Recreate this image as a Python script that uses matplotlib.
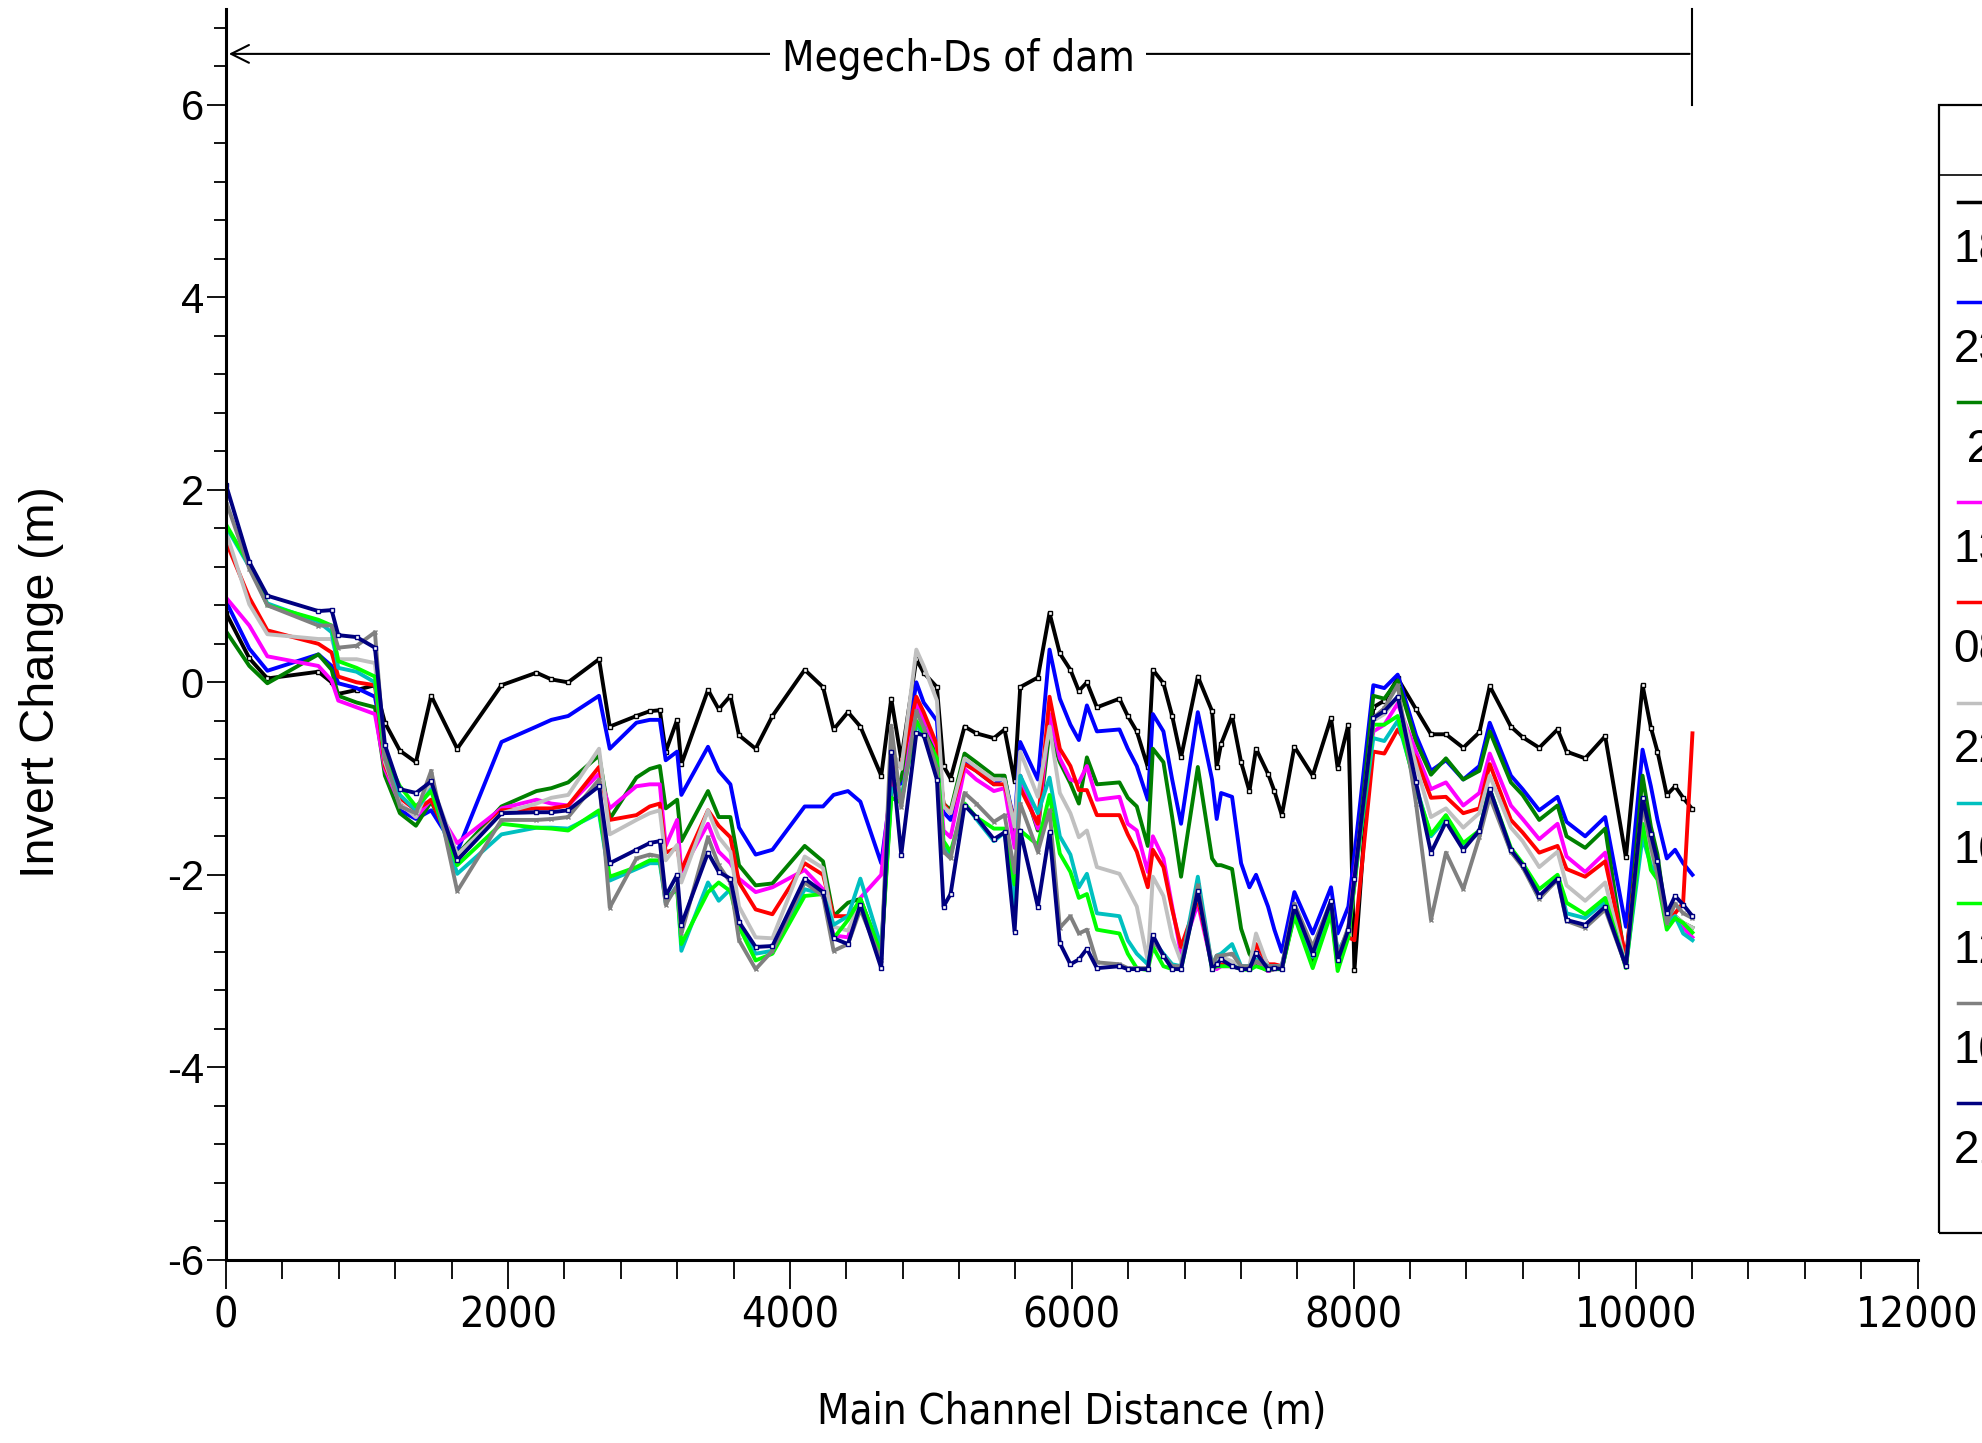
import matplotlib
matplotlib.use("Agg")
import matplotlib.pyplot as plt
from matplotlib import font_manager as fm
from matplotlib.lines import Line2D
from matplotlib.patches import Rectangle
from matplotlib.ticker import MultipleLocator

# river stations (m)
stations = [
    0, 165, 293, 655, 749, 796, 926, 1056, 1127, 1233,
    1347, 1455, 1640, 1954, 2202, 2308, 2427, 2646, 2722, 2911,
    3006, 3077, 3119, 3200, 3230, 3419, 3495, 3578, 3639, 3757,
    3876, 4105, 4235, 4310, 4412, 4500, 4648, 4719, 4790, 4897,
    4949, 5043, 5090, 5140, 5239, 5322, 5447, 5523, 5594, 5634,
    5759, 5842, 5915, 5990, 6050, 6107, 6178, 6338, 6397, 6461,
    6539, 6575, 6650, 6712, 6775, 6894, 6995, 7028, 7059, 7137,
    7201, 7260, 7307, 7392, 7437, 7490, 7579, 7709, 7839, 7886,
    7962, 8005, 8139, 8217, 8312, 8442, 8548, 8654, 8777, 8891,
    8965, 9115, 9198, 9316, 9446, 9510, 9642, 9784, 9931, 10049,
    10108, 10155, 10221, 10280, 10337, 10403,
]

s_black = [
    0.72, 0.25, 0.04, 0.11, 0.0, -0.12, -0.08, -0.03, -0.42, -0.71,
    -0.83, -0.14, -0.69, -0.03, 0.10, 0.03, 0.0, 0.24, -0.46, -0.35,
    -0.30, -0.29, -0.72, -0.39, -0.85, -0.08, -0.28, -0.14, -0.55, -0.69,
    -0.35, 0.13, -0.05, -0.49, -0.31, -0.46, -0.97, -0.17, -0.80, 0.24,
    0.10, -0.05, -0.87, -1.00, -0.46, -0.53, -0.58, -0.49, -1.03, -0.05,
    0.05, 0.72, 0.30, 0.13, -0.09, 0.0, -0.26, -0.17, -0.35, -0.51,
    -0.88, 0.13, -0.01, -0.35, -0.78, 0.06, -0.30, -0.88, -0.64, -0.35,
    -0.83, -1.13, -0.69, -0.95, -1.13, -1.38, -0.67, -0.97, -0.37, -0.89,
    -0.44, -2.99, -0.26, -0.19, 0.04, -0.28, -0.54, -0.54, -0.68, -0.52,
    -0.04, -0.46, -0.57, -0.68, -0.49, -0.72, -0.79, -0.56, -1.82, -0.03,
    -0.47, -0.72, -1.17, -1.08, -1.20, -1.32,
]
s_blue = [
    0.84, 0.35, 0.12, 0.29, 0.17, -0.01, -0.06, -0.15, -0.72, -1.33,
    -1.42, -1.33, -1.76, -0.62, -0.46, -0.39, -0.35, -0.14, -0.69, -0.42,
    -0.39, -0.39, -0.81, -0.72, -1.17, -0.67, -0.92, -1.06, -1.51, -1.79,
    -1.74, -1.29, -1.29, -1.17, -1.13, -1.24, -1.88, -1.10, -1.05, 0.0,
    -0.21, -0.40, -1.35, -1.43, -0.83, -0.92, -1.06, -0.99, -1.47, -0.62,
    -1.01, 0.34, -0.17, -0.44, -0.60, -0.24, -0.51, -0.49, -0.69, -0.87,
    -1.22, -0.33, -0.51, -1.01, -1.47, -0.31, -1.01, -1.42, -1.15, -1.19,
    -1.88, -2.13, -2.00, -2.33, -2.57, -2.80, -2.18, -2.61, -2.13, -2.61,
    -2.33, -1.79, -0.03, -0.06, 0.08, -0.55, -0.92, -0.81, -1.01, -0.87,
    -0.42, -0.97, -1.11, -1.33, -1.19, -1.45, -1.60, -1.40, -2.54, -0.70,
    -1.08, -1.43, -1.83, -1.74, -1.88, -2.00,
]
s_green = [
    0.53, 0.17, -0.01, 0.29, 0.13, -0.14, -0.21, -0.26, -0.97, -1.36,
    -1.49, -1.24, -1.79, -1.29, -1.13, -1.10, -1.04, -0.76, -1.42, -0.99,
    -0.90, -0.87, -1.31, -1.22, -1.65, -1.13, -1.40, -1.40, -1.90, -2.11,
    -2.09, -1.70, -1.86, -2.43, -2.29, -2.25, -2.82, -1.15, -1.00, -0.26,
    -0.47, -0.72, -1.26, -1.33, -0.74, -0.83, -0.97, -0.97, -1.54, -0.97,
    -1.54, -0.50, -0.83, -1.05, -1.26, -0.78, -1.06, -1.04, -1.20, -1.29,
    -1.70, -0.69, -0.83, -1.40, -2.02, -0.88, -1.83, -1.90, -1.90, -1.94,
    -2.56, -2.82, -2.93, -3.00, -2.98, -2.98, -2.40, -2.90, -2.35, -2.95,
    -2.60, -2.10, -0.14, -0.17, 0.02, -0.62, -0.96, -0.79, -1.01, -0.92,
    -0.51, -1.04, -1.17, -1.43, -1.28, -1.60, -1.72, -1.52, -2.95, -0.97,
    -1.50, -1.79, -2.50, -2.43, -2.50, -2.55,
]
s_magenta = [
    0.88, 0.59, 0.27, 0.17, 0.02, -0.19, -0.26, -0.33, -0.90, -1.26,
    -1.40, -1.22, -1.67, -1.31, -1.22, -1.26, -1.28, -0.95, -1.31, -1.08,
    -1.06, -1.06, -1.70, -1.43, -1.97, -1.47, -1.76, -1.88, -2.04, -2.18,
    -2.13, -1.95, -2.15, -2.63, -2.65, -2.24, -2.00, -1.00, -1.25, -0.19,
    -0.40, -0.68, -1.54, -1.61, -0.90, -1.01, -1.13, -1.10, -1.72, -0.97,
    -1.52, -0.33, -0.79, -1.01, -1.04, -0.87, -1.22, -1.19, -1.47, -1.54,
    -1.97, -1.60, -1.83, -2.33, -2.82, -2.30, -2.95, -2.98, -2.95, -2.95,
    -2.98, -2.98, -2.90, -3.00, -2.98, -2.98, -2.40, -2.85, -2.35, -2.90,
    -2.55, -2.00, -0.51, -0.44, -0.22, -0.72, -1.11, -1.04, -1.28, -1.15,
    -0.74, -1.28, -1.42, -1.63, -1.47, -1.81, -1.97, -1.77, -2.95, -1.25,
    -1.65, -1.97, -2.50, -2.45, -2.55, -2.65,
]
s_red = [
    1.46, 0.88, 0.54, 0.40, 0.31, 0.06, 0.0, -0.03, -0.87, -1.20,
    -1.33, -1.22, -1.83, -1.33, -1.31, -1.31, -1.28, -0.88, -1.43, -1.38,
    -1.29, -1.26, -1.77, -1.72, -1.95, -1.33, -1.49, -1.61, -2.08, -2.36,
    -2.41, -1.88, -2.00, -2.43, -2.43, -2.29, -2.82, -0.90, -0.85, -0.15,
    -0.31, -0.65, -1.26, -1.36, -0.85, -0.92, -1.06, -1.06, -1.45, -1.10,
    -1.47, -0.15, -0.69, -0.87, -1.12, -1.12, -1.38, -1.38, -1.58, -1.76,
    -2.13, -1.74, -1.92, -2.36, -2.75, -2.25, -2.93, -2.95, -2.93, -2.95,
    -2.95, -2.98, -2.72, -2.93, -2.93, -2.95, -2.40, -2.80, -2.35, -2.80,
    -2.65, -2.68, -0.72, -0.74, -0.49, -0.79, -1.20, -1.19, -1.36, -1.31,
    -0.85, -1.43, -1.56, -1.77, -1.70, -1.94, -2.02, -1.86, -2.86, -1.25,
    -1.70, -2.00, -2.50, -2.40, -2.29, -0.53,
]
s_silver = [
    1.56, 0.81, 0.50, 0.45, 0.45, 0.24, 0.24, 0.20, -0.83, -1.26,
    -1.40, -1.04, -1.79, -1.36, -1.26, -1.20, -1.17, -0.69, -1.58, -1.43,
    -1.36, -1.33, -1.85, -1.69, -2.08, -1.33, -1.61, -1.76, -2.33, -2.65,
    -2.66, -1.81, -1.93, -2.54, -2.58, -2.29, -2.82, -0.70, -0.90, 0.34,
    0.17, -0.19, -1.29, -1.36, -0.79, -0.88, -1.01, -1.01, -1.50, -0.72,
    -1.19, -0.46, -1.15, -1.36, -1.61, -1.54, -1.92, -1.99, -2.15, -2.33,
    -2.90, -2.02, -2.22, -2.65, -2.90, -2.18, -2.95, -2.90, -2.85, -2.90,
    -2.95, -2.95, -2.61, -2.95, -2.95, -2.95, -2.35, -2.75, -2.30, -2.85,
    -2.55, -2.10, -0.40, -0.33, -0.15, -0.86, -1.40, -1.31, -1.51, -1.36,
    -0.97, -1.51, -1.65, -1.92, -1.76, -2.11, -2.27, -2.08, -2.95, -1.26,
    -1.80, -1.97, -2.50, -2.43, -2.50, -2.55,
]
s_cyan = [
    1.62, 1.20, 0.82, 0.63, 0.52, 0.15, 0.11, 0.00, -0.79, -1.17,
    -1.33, -1.11, -1.99, -1.58, -1.51, -1.51, -1.52, -1.36, -2.06, -1.94,
    -1.88, -1.88, -2.29, -2.11, -2.79, -2.08, -2.27, -2.15, -2.50, -2.82,
    -2.79, -2.15, -2.20, -2.52, -2.43, -2.04, -2.75, -1.10, -1.20, -0.44,
    -0.55, -0.82, -1.72, -1.79, -1.26, -1.42, -1.65, -1.56, -2.33, -0.97,
    -1.36, -0.99, -1.60, -1.79, -2.13, -1.99, -2.40, -2.43, -2.68, -2.82,
    -2.93, -2.68, -2.82, -2.93, -2.95, -2.02, -2.95, -2.84, -2.82, -2.72,
    -2.95, -2.95, -2.88, -2.95, -2.95, -2.95, -2.35, -2.85, -2.30, -2.80,
    -2.60, -2.05, -0.58, -0.61, -0.40, -1.08, -1.60, -1.42, -1.70, -1.56,
    -1.11, -1.76, -1.90, -2.25, -2.02, -2.40, -2.45, -2.28, -2.95, -1.61,
    -1.90, -2.00, -2.50, -2.43, -2.61, -2.68,
]
s_lime = [
    1.64, 1.22, 0.80, 0.65, 0.59, 0.22, 0.15, 0.06, -0.76, -1.08,
    -1.29, -1.13, -1.90, -1.47, -1.51, -1.52, -1.54, -1.33, -2.02, -1.92,
    -1.85, -1.85, -2.25, -2.15, -2.72, -2.18, -2.08, -2.17, -2.54, -2.89,
    -2.82, -2.22, -2.20, -2.66, -2.47, -2.25, -2.82, -1.20, -1.25, -0.40,
    -0.52, -0.79, -1.65, -1.76, -1.26, -1.40, -1.52, -1.52, -2.10, -1.54,
    -1.69, -1.17, -1.78, -1.97, -2.24, -2.20, -2.57, -2.61, -2.82, -2.97,
    -2.99, -2.75, -2.95, -2.98, -2.98, -2.15, -2.98, -2.95, -2.95, -2.95,
    -2.98, -2.99, -2.95, -2.99, -2.98, -2.98, -2.43, -2.97, -2.40, -3.00,
    -2.65, -2.10, -0.44, -0.44, -0.35, -1.11, -1.58, -1.38, -1.67, -1.54,
    -1.11, -1.72, -1.88, -2.15, -2.00, -2.29, -2.41, -2.24, -2.97, -1.47,
    -1.95, -2.05, -2.57, -2.45, -2.50, -2.60,
]
s_gray = [
    1.88, 1.18, 0.80, 0.59, 0.59, 0.36, 0.38, 0.52, -0.79, -1.29,
    -1.36, -0.92, -2.17, -1.43, -1.43, -1.42, -1.40, -1.01, -2.34, -1.83,
    -1.79, -1.81, -2.31, -2.11, -2.61, -1.61, -1.90, -2.08, -2.68, -2.98,
    -2.79, -2.08, -2.22, -2.79, -2.72, -2.36, -2.89, -0.45, -1.30, -0.30,
    -0.47, -0.90, -1.76, -1.83, -1.15, -1.26, -1.45, -1.38, -1.97, -1.26,
    -1.76, -1.33, -2.55, -2.43, -2.61, -2.57, -2.91, -2.93, -2.97, -2.97,
    -2.97, -2.68, -2.84, -2.95, -2.95, -2.11, -2.95, -2.84, -2.84, -2.82,
    -2.95, -2.95, -2.90, -2.95, -2.95, -2.95, -2.30, -2.75, -2.27, -2.85,
    -2.55, -2.05, -0.37, -0.27, -0.03, -1.26, -2.47, -1.77, -2.15, -1.61,
    -1.19, -1.76, -1.92, -2.25, -2.05, -2.48, -2.55, -2.36, -2.95, -1.26,
    -1.70, -2.00, -2.50, -2.30, -2.40, -2.45,
]
s_navy = [
    2.05, 1.25, 0.90, 0.74, 0.75, 0.49, 0.47, 0.36, -0.65, -1.11,
    -1.15, -1.03, -1.85, -1.36, -1.35, -1.35, -1.33, -1.08, -1.88, -1.74,
    -1.67, -1.65, -2.22, -2.00, -2.52, -1.77, -1.97, -2.04, -2.49, -2.75,
    -2.74, -2.04, -2.18, -2.66, -2.72, -2.31, -2.97, -0.72, -1.79, -0.53,
    -0.55, -1.01, -2.33, -2.20, -1.28, -1.40, -1.63, -1.56, -2.59, -1.54,
    -2.33, -1.56, -2.71, -2.93, -2.88, -2.77, -2.97, -2.95, -2.98, -2.98,
    -2.98, -2.63, -2.84, -2.98, -2.98, -2.17, -2.98, -2.93, -2.88, -2.95,
    -2.98, -2.98, -2.81, -2.98, -2.97, -2.98, -2.33, -2.82, -2.27, -2.89,
    -2.57, -2.04, -0.37, -0.30, -0.15, -1.04, -1.77, -1.45, -1.74, -1.54,
    -1.11, -1.74, -1.90, -2.22, -2.04, -2.47, -2.52, -2.33, -2.95, -1.20,
    -1.58, -1.86, -2.40, -2.22, -2.31, -2.43,
]

series = [s_black, s_blue, s_green, s_magenta, s_red,
          s_silver, s_cyan, s_lime, s_gray, s_navy]
colors = ['#000000', '#0000FF', '#008000', '#FF00FF', '#FF0000',
          '#C0C0C0', '#00C0C0', '#00FF00', '#808080', '#000080']
labels = ['18', '23', ' 2', '13', '08', '22', '10', '12', '10', '21']
markers = ['s', None, None, None, None, None, None, None, 'x', 's']

plt.rcParams['font.family'] = ['Liberation Sans', 'DejaVu Sans']
plt.rcParams['axes.unicode_minus'] = False


def find_narrow():
    # look for a condensed sans face; fall back to the regular one
    prefs = ['LiberationSansNarrow-Regular', 'ArialNarrow', 'arialn',
             'DejaVuSansCondensed.ttf']
    files = [f.fname for f in fm.fontManager.ttflist]
    for p in prefs:
        for fn in files:
            base = fn.split('/')[-1]
            if base.startswith(p) or base == p:
                return fn, (1.0 if 'DejaVu' not in fn else 0.86)
    return None, 0.8


narrow_file, narrow_scale = find_narrow()


def nfont(size):
    if narrow_file:
        return fm.FontProperties(fname=narrow_file, size=size * narrow_scale)
    return fm.FontProperties(family='Liberation Sans', size=size * narrow_scale)


fig = plt.figure(figsize=(19.83, 14.43), dpi=100)
ax = fig.add_axes([0.114, 0.127, 0.853, 0.867])

for ys, c, m in zip(series, colors, markers):
    ax.plot(stations, ys, color=c, lw=2.8, marker=m, ms=2.5,
            mfc='white' if m == 's' else c, mec=c, mew=1.0)

ax.set_xlim(0, 12000)
ax.set_ylim(-6, 7)
ax.xaxis.set_major_locator(MultipleLocator(2000))
ax.xaxis.set_minor_locator(MultipleLocator(400))
ax.set_yticks([-6, -4, -2, 0, 2, 4, 6])
ax.yaxis.set_minor_locator(MultipleLocator(0.4))
for s in ['top', 'right']:
    ax.spines[s].set_visible(False)
for s in ['left', 'bottom']:
    ax.spines[s].set_linewidth(2.2)

ax.tick_params(axis='x', which='major', direction='out', length=21, width=1.3, pad=4)
ax.tick_params(axis='x', which='minor', direction='out', length=14, width=1.3)
ax.tick_params(axis='y', which='major', direction='out', length=14, width=1.3, pad=2)
ax.tick_params(axis='y', which='minor', direction='out', length=9, width=1.3)
for t in ax.get_xticklabels():
    t.set_fontproperties(nfont(36))
for t in ax.get_yticklabels():
    t.set_fontsize(30)

ax.set_xlabel('Main Channel Distance (m)', fontproperties=nfont(35))
ax.xaxis.set_label_coords(0.5, -0.122)
ax.xaxis.label.set_va('center')
ax.set_ylabel('Invert Change (m)', fontsize=35)
ax.yaxis.set_label_coords(-0.109, 6 / 13)
ax.yaxis.label.set_va('center')

# reach annotation
ax.annotate('', xy=(0, 6.53), xytext=(10403, 6.53),
            arrowprops=dict(arrowstyle='->', lw=1.5, color='black', mutation_scale=32),
            annotation_clip=False)
ax.plot([10403, 10403], [6.0, 7.0], color='black', lw=1.5, clip_on=False)
ax.text(5193, 6.48, 'Megech-Ds of dam', fontproperties=nfont(35),
        ha='center', va='center',
        bbox=dict(facecolor='white', edgecolor='none', pad=8))

# legend box (cut at the right edge)
fig.add_artist(Rectangle((0.9778, 0.1455), 0.1, 0.9272 - 0.1455,
                         transform=fig.transFigure, fill=False,
                         edgecolor='black', lw=1.6, clip_on=False))
fig.add_artist(Line2D([0.9778, 1.0], [0.8787, 0.8787], transform=fig.transFigure,
                      color='black', lw=1.2))
for i, (c, lab) in enumerate(zip(colors, labels)):
    yl = 1 - (202 + 100.1 * i) / 1443
    fig.add_artist(Line2D([0.9874, 1.01], [yl, yl], transform=fig.transFigure,
                          color=c, lw=2.5))
    fig.text(0.9852, yl - 48 / 1443, lab, fontsize=33, ha='left', va='center')

fig.savefig('out.png', dpi=100)
